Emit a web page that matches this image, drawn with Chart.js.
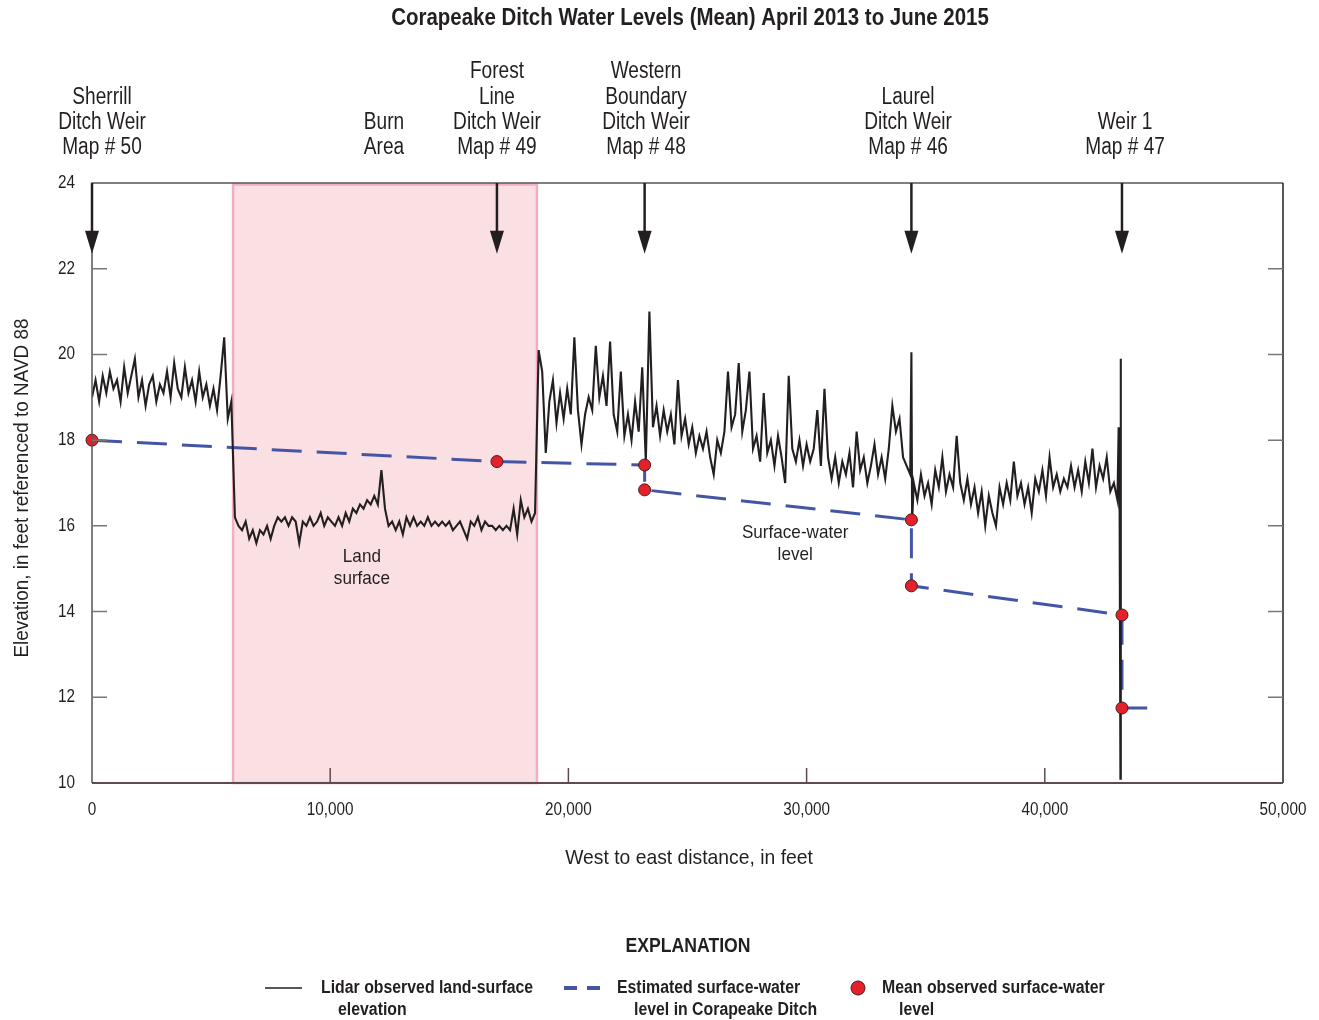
<!DOCTYPE html>
<html>
<head>
<meta charset="utf-8">
<title>Corapeake Ditch Water Levels</title>
<script src="https://cdn.jsdelivr.net/npm/chart.js@4.4.1/dist/chart.umd.min.js"></script>
<style>
  html, body { margin: 0; padding: 0; background: #fff; }
  #wrap { width: 1319px; height: 1020px; position: relative; }
</style>
</head>
<body>
<div id="wrap"><canvas id="ditchChart" width="1319" height="1020"></canvas></div>
<script>
// lidar land-surface profile, sampled every 150 ft from 0 ft
const lidarStep = 150;
const lidarElev = [
  19.0, 19.4, 18.9, 19.5, 19.1, 19.6, 19.2, 19.4, 18.9, 19.7,
  19.1, 19.5, 19.9, 19.0, 19.4, 18.8, 19.3, 19.5, 18.9, 19.3,
  19.1, 19.6, 19.0, 19.8, 19.2, 19.0, 19.7, 19.1, 19.4, 18.9,
  19.6, 19.0, 19.3, 18.8, 19.2, 18.7, 19.5, 20.4, 18.5, 18.9,
  // 6000 ft - burn area
  16.2, 16.0, 15.9, 16.1, 15.7, 15.9, 15.6, 15.9, 15.8, 16.0,
  15.7, 16.0, 16.2, 16.1, 16.2, 16.0, 16.2, 16.1, 15.6, 16.1,
  16.0, 16.2, 16.0, 16.1, 16.3, 16.0, 16.2, 16.1, 16.0, 16.2,
  16.0, 16.3, 16.1, 16.4, 16.3, 16.5, 16.4, 16.6, 16.5, 16.7,
  16.5, 17.3, 16.4, 16.0, 16.1, 15.9, 16.1, 15.8, 16.2, 16.0,
  16.2, 16.0, 16.1, 16.0, 16.2, 16.0, 16.1, 16.0, 16.1, 16.0,
  16.1, 15.9, 16.0, 16.1, 15.9, 15.7, 16.1, 16.0, 16.2, 15.9,
  16.1, 16.0, 16.0, 15.9, 16.0, 15.9, 16.0, 15.9, 16.4, 15.8,
  16.6, 16.2, 16.4, 16.1, 16.3, 20.1,
  // 18900 ft
  19.6, 17.7, 18.9, 19.4, 18.4, 19.1, 18.5, 19.2, 18.6, 20.4,
  18.7, 17.9, 18.6, 19.0, 18.7, 20.2, 19.0, 19.5, 18.8, 20.3,
  18.6, 18.2, 19.6, 18.1, 18.6, 18.0, 18.9, 18.2, 19.7, 17.5,
  21.0, 18.3, 18.8, 18.1, 18.7, 18.2, 18.6, 17.9, 19.4, 18.1,
  18.5, 17.9, 18.3, 17.7, 18.1, 17.8, 18.2, 17.6, 17.2, 18.0,
  17.7, 18.2, 19.6, 18.3, 18.6, 19.8, 18.2, 18.7, 19.6, 17.8,
  18.1, 17.5, 19.1, 17.7, 18.0, 17.4, 18.1, 17.6, 17.0, 19.5,
  17.8, 17.5, 18.0, 17.4, 17.9, 17.5, 17.8, 18.7, 17.4, 19.2,
  17.6, 17.1, 17.6, 17.0, 17.5, 17.2, 17.7, 16.9, 18.2, 17.3,
  17.6, 17.0, 17.4, 17.9, 17.2, 17.6, 17.1, 17.8, 18.8, 18.2,
  18.5, 17.6, 17.4, 17.2,
  // 34500 ft
  17.0, 16.6, 17.2, 16.7, 17.0, 16.5, 17.3, 16.9, 17.6, 16.8,
  17.2, 16.9, 18.1, 17.0, 16.6, 17.1, 16.5, 16.9, 16.3, 16.8,
  16.0, 16.7, 16.3, 16.0, 16.9, 16.5, 17.0, 16.6, 17.5, 16.7,
  17.0, 16.5, 16.9, 16.3, 17.1, 16.8, 17.3, 16.7, 17.6, 16.9,
  17.2, 16.8, 17.1, 16.9, 17.4, 16.9, 17.3, 16.8, 17.5, 17.0,
  17.8, 16.9, 17.4, 17.1, 17.6, 16.8, 17.0, 16.6
];
// single-sample spikes at the Laurel weir and Weir 1
const spikeDist = [34400, 34430, 43100, 43140, 43175, 43190];
const spikeElev = [20.05, 16.1, 18.3, 16.6, 10.1, 19.9];

// estimated surface-water level along the ditch
const waterDist = [0, 17000, 23200, 23200, 34400, 34400, 43240, 43240, 44300];
const waterElev = [18.0, 17.5, 17.42, 16.84, 16.14, 14.6, 13.92, 11.75, 11.75];

// mean observed surface-water level at weirs
const obsDist = [0, 17000, 23200, 23200, 34400, 34400, 43240, 43240];
const obsElev = [18.0, 17.5, 17.42, 16.84, 16.14, 14.6, 13.92, 11.75];

// burn area extent
const burnStart = 5880;
const burnEnd = 18720;

// weirs marked with arrows
const arrowDist = [0, 17000, 23200, 34400, 43240];
const arrowTip = 22.35;

// labels above the plot
const siteDist = [420, 12260, 17000, 23260, 34260, 43370];
const siteNames = [
  ['Sherrill', 'Ditch Weir', 'Map # 50'],
  ['Burn', 'Area'],
  ['Forest', 'Line', 'Ditch Weir', 'Map # 49'],
  ['Western', 'Boundary', 'Ditch Weir', 'Map # 48'],
  ['Laurel', 'Ditch Weir', 'Map # 46'],
  ['Weir 1', 'Map # 47']
];

// axis ticks
const xTicks = [0, 10000, 20000, 30000, 40000, 50000];
const yTicks = [10, 12, 14, 16, 18, 20, 22, 24];

const FONT = '"Liberation Sans", Arial, sans-serif';
const INK = '#231f20';
const BLUE = '#4455a6';
const RED = '#e3202b';

const lidarPoints = lidarElev.map((v, i) => ({ x: i * lidarStep, y: v }));
spikeDist.forEach((d, i) => lidarPoints.push({ x: d, y: spikeElev[i] }));
lidarPoints.sort((a, b) => a.x - b.x);

// condensed text: scale glyphs horizontally to mimic the narrow USGS face
function ctext(ctx, str, x, y, font, sx, align) {
  ctx.save();
  ctx.font = font;
  ctx.textAlign = align || 'center';
  ctx.textBaseline = 'middle';
  ctx.translate(x, y);
  ctx.scale(sx, 1);
  ctx.fillText(str, 0, 0);
  ctx.restore();
}

const decorPlugin = {
  id: 'decor',
  beforeDatasetsDraw(chart) {
    const { ctx, chartArea: a, scales: { x } } = chart;
    const x0 = x.getPixelForValue(burnStart);
    const x1 = x.getPixelForValue(burnEnd);
    ctx.save();
    ctx.fillStyle = '#fadfe3';
    ctx.fillRect(x0, a.top, x1 - x0, a.bottom - a.top);
    ctx.strokeStyle = '#f2adc4';
    ctx.lineWidth = 2.5;
    ctx.strokeRect(x0 + 1, a.top + 1.5, x1 - x0 - 2, a.bottom - a.top - 1.5);
    ctx.restore();
  },
  afterDraw(chart) {
    const { ctx, chartArea: a, scales: { x, y } } = chart;
    ctx.save();

    // frame
    ctx.strokeStyle = '#555';
    ctx.lineWidth = 1.5;
    ctx.beginPath();
    ctx.moveTo(a.left, a.bottom);
    ctx.lineTo(a.left, a.top);
    ctx.lineTo(a.right, a.top);
    ctx.stroke();
    ctx.strokeStyle = INK;
    ctx.beginPath();
    ctx.moveTo(a.right, a.top);
    ctx.lineTo(a.right, a.bottom);
    ctx.stroke();
    ctx.strokeStyle = '#5e4a52';
    ctx.lineWidth = 2;
    ctx.beginPath();
    ctx.moveTo(a.left, a.bottom);
    ctx.lineTo(a.right, a.bottom);
    ctx.stroke();

    // inward ticks
    ctx.strokeStyle = '#777';
    ctx.lineWidth = 1.5;
    yTicks.slice(1, -1).forEach(v => {
      const py = y.getPixelForValue(v);
      ctx.beginPath();
      ctx.moveTo(a.left, py); ctx.lineTo(a.left + 15, py);
      ctx.moveTo(a.right - 15, py); ctx.lineTo(a.right, py);
      ctx.stroke();
    });
    ctx.strokeStyle = '#5e4a52';
    xTicks.slice(1, -1).forEach(v => {
      const px = x.getPixelForValue(v);
      ctx.beginPath();
      ctx.moveTo(px, a.bottom); ctx.lineTo(px, a.bottom - 15);
      ctx.stroke();
    });

    // tick labels
    ctx.fillStyle = INK;
    const tickFont = '18px ' + FONT;
    yTicks.forEach(v => ctext(ctx, String(v), 75, y.getPixelForValue(v), tickFont, 0.85, 'right'));
    xTicks.forEach(v => ctext(ctx, v.toLocaleString('en-US'), x.getPixelForValue(v), 810, tickFont, 0.85));

    // arrows
    ctx.strokeStyle = INK;
    ctx.fillStyle = INK;
    arrowDist.forEach(d => {
      const px = x.getPixelForValue(d);
      const tip = y.getPixelForValue(arrowTip);
      ctx.lineWidth = 2.5;
      ctx.beginPath();
      ctx.moveTo(px, a.top);
      ctx.lineTo(px, tip - 20);
      ctx.stroke();
      ctx.beginPath();
      ctx.moveTo(px - 7, tip - 23);
      ctx.lineTo(px + 7, tip - 23);
      ctx.lineTo(px, tip);
      ctx.closePath();
      ctx.fill();
    });

    // title
    ctext(ctx, 'Corapeake Ditch Water Levels (Mean) April 2013 to June 2015', 690, 19,
      'bold 23px ' + FONT, 0.89);

    // site labels
    siteNames.forEach((lines, i) => {
      const px = x.getPixelForValue(siteDist[i]);
      const n = lines.length;
      lines.forEach((t, j) => {
        ctext(ctx, t, px, 148 - (n - 1 - j) * 25.3, '23px ' + FONT, 0.83);
      });
    });

    // in-plot annotations
    const annFont = '19px ' + FONT;
    const lx = x.getPixelForValue(11330);
    ctext(ctx, 'Land', lx, 557, annFont, 0.9);
    ctext(ctx, 'surface', lx, 579, annFont, 0.9);
    const sx = x.getPixelForValue(29520);
    ctext(ctx, 'Surface-water', sx, 533, annFont, 0.9);
    ctext(ctx, 'level', sx, 555, annFont, 0.9);

    // axis titles
    ctext(ctx, 'West to east distance, in feet', 689, 858, '21px ' + FONT, 0.92);
    ctx.save();
    ctx.translate(22, 488);
    ctx.rotate(-Math.PI / 2);
    ctext(ctx, 'Elevation, in feet referenced to NAVD 88', 0, 0, '21px ' + FONT, 0.9);
    ctx.restore();

    // explanation
    ctext(ctx, 'EXPLANATION', 688, 946, 'bold 21px ' + FONT, 0.84);
    const legFont = 'bold 18px ' + FONT;
    ctx.strokeStyle = INK;
    ctx.lineWidth = 1.5;
    ctx.beginPath();
    ctx.moveTo(265, 988); ctx.lineTo(302, 988);
    ctx.stroke();
    ctext(ctx, 'Lidar observed land-surface', 321, 988, legFont, 0.88, 'left');
    ctext(ctx, 'elevation', 338, 1010, legFont, 0.88, 'left');
    ctx.strokeStyle = BLUE;
    ctx.lineWidth = 4;
    ctx.beginPath();
    ctx.moveTo(564, 988); ctx.lineTo(577, 988);
    ctx.moveTo(587, 988); ctx.lineTo(600, 988);
    ctx.stroke();
    ctext(ctx, 'Estimated surface-water', 617, 988, legFont, 0.88, 'left');
    ctext(ctx, 'level in Corapeake Ditch', 634, 1010, legFont, 0.88, 'left');
    ctx.fillStyle = RED;
    ctx.strokeStyle = '#4a1a1a';
    ctx.lineWidth = 1;
    ctx.beginPath();
    ctx.arc(858, 988, 7, 0, Math.PI * 2);
    ctx.fill();
    ctx.stroke();
    ctx.fillStyle = INK;
    ctext(ctx, 'Mean observed surface-water', 882, 988, legFont, 0.88, 'left');
    ctext(ctx, 'level', 899, 1010, legFont, 0.88, 'left');

    ctx.restore();
  }
};

new Chart(document.getElementById('ditchChart'), {
  type: 'line',
  data: {
    datasets: [
      {
        type: 'scatter',
        label: 'Mean observed surface-water level',
        data: obsDist.map((d, i) => ({ x: d, y: obsElev[i] })),
        backgroundColor: RED,
        borderColor: '#4a1a1a',
        borderWidth: 1,
        pointRadius: 6,
        clip: false,
        order: 0
      },
      {
        label: 'Lidar observed land-surface elevation',
        data: lidarPoints,
        borderColor: INK,
        borderWidth: 2.1,
        pointRadius: 0,
        tension: 0,
        order: 1
      },
      {
        label: 'Estimated surface-water level in Corapeake Ditch',
        data: waterDist.map((d, i) => ({ x: d, y: waterElev[i] })),
        borderColor: BLUE,
        borderWidth: 3,
        borderDash: [30, 15],
        pointRadius: 0,
        tension: 0,
        order: 2
      }
    ]
  },
  options: {
    responsive: false,
    animation: false,
    layout: { padding: { top: 183, right: 36, left: 0, bottom: 0 } },
    plugins: { legend: { display: false }, tooltip: { enabled: false } },
    scales: {
      x: {
        type: 'linear',
        min: 0,
        max: 50000,
        grid: { display: false, drawTicks: false },
        border: { display: false },
        ticks: { display: false, stepSize: 10000 },
        afterFit: s => { s.height = 237; }
      },
      y: {
        min: 10,
        max: 24,
        grid: { display: false, drawTicks: false },
        border: { display: false },
        ticks: { display: false, stepSize: 2 },
        afterFit: s => { s.width = 92; }
      }
    }
  },
  plugins: [decorPlugin]
});
</script>
</body>
</html>
